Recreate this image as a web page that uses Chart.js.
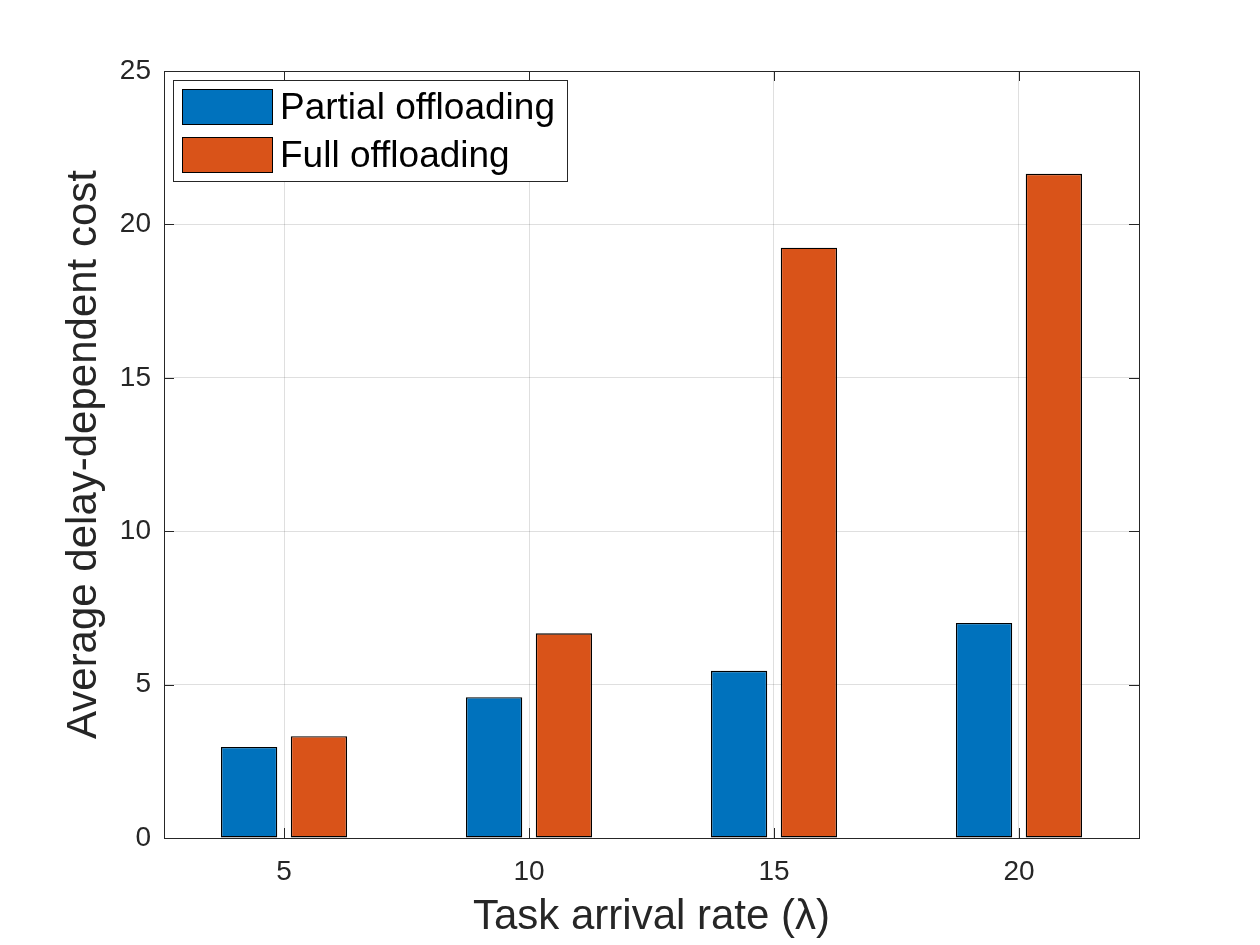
<!DOCTYPE html>
<html>
<head>
<meta charset="utf-8">
<script src="https://cdn.jsdelivr.net/npm/chart.js@4"></script>
<style>
  body { margin: 0; background: #fff; }
  #wrap { width: 1260px; height: 945px; }
</style>
</head>
<body>
<div id="wrap"><canvas id="myChart" width="1260" height="945"></canvas></div>
<script>
const arrivalRates = [5, 10, 15, 20];
const partialCost = [2.97, 4.59, 5.45, 7.01];
const fullCost = [3.32, 6.67, 19.24, 21.65];
const yTicks = [0, 5, 10, 15, 20, 25];
const seriesNames = ["Partial offloading", "Full offloading"];

const FONT = "'Liberation Sans', Arial, Helvetica, sans-serif";
const AXIS = "#262626";

// box round the axes, ticks pointing inward, and a boxed legend (matlab look)
const matlabBox = {
  id: "matlabBox",
  afterDatasetsDraw(chart) {
    const { ctx, chartArea: a, scales } = chart;
    const tl = 10;
    ctx.save();
    ctx.strokeStyle = AXIS;
    ctx.lineWidth = 1;
    ctx.beginPath();
    scales.x.ticks.forEach(t => {
      const px = Math.round(scales.x.getPixelForValue(t.value)) + 0.5;
      ctx.moveTo(px, a.bottom); ctx.lineTo(px, a.bottom - tl);
      ctx.moveTo(px, a.top); ctx.lineTo(px, a.top + tl);
    });
    scales.y.ticks.forEach(t => {
      const py = Math.round(scales.y.getPixelForValue(t.value)) + 0.5;
      ctx.moveTo(a.left, py); ctx.lineTo(a.left + tl, py);
      ctx.moveTo(a.right, py); ctx.lineTo(a.right - tl, py);
    });
    ctx.stroke();
    ctx.strokeRect(Math.round(a.left) + 0.5, Math.round(a.top) + 0.5,
      Math.round(a.right - a.left), Math.round(a.bottom - a.top));

    // legend
    const lx = 173, ly = 80, lw = 394, lh = 101;
    ctx.fillStyle = "#fff";
    ctx.fillRect(lx, ly, lw, lh);
    ctx.strokeRect(lx + 0.5, ly + 0.5, lw, lh);
    ctx.font = "37px " + FONT;
    ctx.textBaseline = "middle";
    ctx.textAlign = "left";
    chart.data.datasets.forEach((ds, i) => {
      const sy = 89 + i * 48;
      ctx.fillStyle = ds.backgroundColor;
      ctx.fillRect(182, sy, 90, 35);
      ctx.strokeStyle = "#000";
      ctx.strokeRect(182.5, sy + 0.5, 90, 35);
      ctx.fillStyle = "#000";
      ctx.fillText(ds.label, 280, sy + 20);
    });
    ctx.restore();
  }
};

const ctx = document.getElementById("myChart");

new Chart(ctx, {
  type: "bar",
  data: {
    datasets: [
      {
        label: seriesNames[0],
        data: arrivalRates.map((x, i) => ({ x: x, y: partialCost[i] })),
        backgroundColor: "#0072BD",
        borderColor: "#000",
        borderWidth: 1.4,
        borderSkipped: false
      },
      {
        label: seriesNames[1],
        data: arrivalRates.map((x, i) => ({ x: x, y: fullCost[i] })),
        backgroundColor: "#D95319",
        borderColor: "#000",
        borderWidth: 1.4,
        borderSkipped: false
      }
    ]
  },
  options: {
    responsive: false,
    animation: false,
    devicePixelRatio: 1,
    categoryPercentage: 0.57,
    barPercentage: 0.806,
    layout: { padding: { top: 71, right: 121, left: 0, bottom: 0 } },
    plugins: {
      legend: { display: false },
      tooltip: { enabled: false }
    },
    scales: {
      x: {
        type: "linear",
        min: 2.55,
        max: 22.45,
        offset: false,
        afterBuildTicks: s => { s.ticks = arrivalRates.map(v => ({ value: v })); },
        afterFit: s => { s.height = 107; },
        grid: { color: "rgba(38,38,38,0.15)", drawTicks: false, offset: false },
        border: { display: false },
        ticks: { color: AXIS, font: { family: FONT, size: 28 }, padding: 17 },
        title: {
          display: true,
          text: "Task arrival rate (λ)",
          color: AXIS,
          font: { family: FONT, size: 42 },
          padding: { top: 0, bottom: 2 }
        }
      },
      y: {
        min: 0,
        max: 25,
        afterBuildTicks: s => { s.ticks = yTicks.map(v => ({ value: v })); },
        afterFit: s => { s.width = 164; },
        grid: { color: "rgba(38,38,38,0.15)", drawTicks: false },
        border: { display: false },
        ticks: { color: AXIS, font: { family: FONT, size: 28 }, padding: 13 },
        title: {
          display: true,
          text: "Average delay-dependent cost",
          color: AXIS,
          font: { family: FONT, size: 42 },
          padding: { top: 59, bottom: 0 }
        }
      }
    }
  },
  plugins: [matlabBox]
});
</script>
</body>
</html>
